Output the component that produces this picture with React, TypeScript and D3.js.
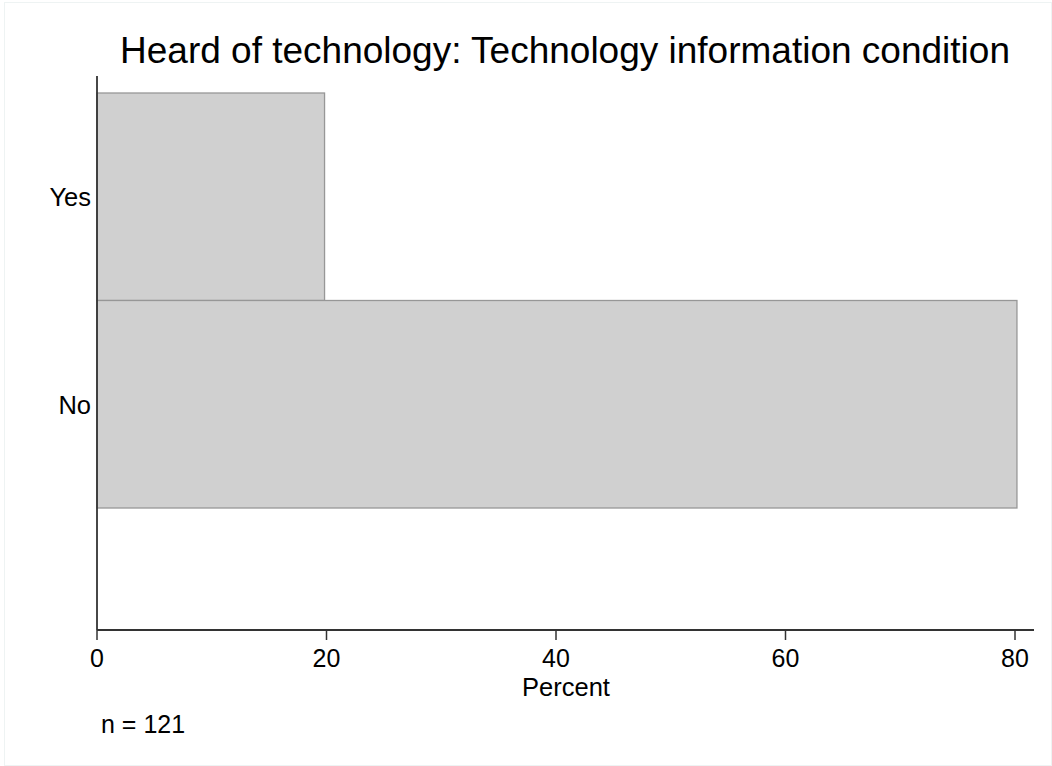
import React from "react";
import * as d3 from "d3";

const categories = ["Yes", "No"];
const percents = [19.83, 80.17];
const xTicks = [0, 20, 40, 60, 80];
const titleText = "Heard of technology: Technology information condition";
const xLabel = "Percent";
const note = "n = 121";

const W = 1052;
const H = 766;
const FONT = "'Liberation Sans', Arial, Helvetica, sans-serif";

export default function App() {
  const x = d3.scaleLinear().domain([0, 80]).range([97, 1015]);
  const y = d3.scaleBand().domain(categories).range([93, 508]).padding(0);
  const axisLeft = 97;
  const axisBottom = 630;
  const axisTop = 76;
  const axisRight = 1034;

  return (
    <svg
      width={W}
      height={H}
      style={{ position: "absolute", left: 0, top: 0, background: "#fff" }}
      fontFamily={FONT}
    >
      <rect x={0} y={0} width={W} height={H} fill="#fff" />
      <rect x={4.5} y={2.5} width={W - 5} height={H - 3} fill="none" stroke="#eef3f3" />
      <text x={565} y={63} textAnchor="middle" fontSize={37} fill="#000">
        {titleText}
      </text>
      {categories.map((c, i) => (
        <rect
          key={c}
          x={x(0)}
          y={y(c)!}
          width={x(percents[i]) - x(0)}
          height={y.bandwidth()}
          fill="#d0d0d0"
          stroke="#979797"
          strokeWidth={1.3}
        />
      ))}
      <line x1={axisLeft} x2={axisLeft} y1={axisTop} y2={axisBottom} stroke="#333" strokeWidth={1.8} />
      <line x1={axisLeft} x2={axisRight} y1={axisBottom} y2={axisBottom} stroke="#333" strokeWidth={1.8} />
      {categories.map((c) => (
        <text
          key={c}
          x={91}
          y={y(c)! + y.bandwidth() / 2 + 9.5}
          textAnchor="end"
          fontSize={25.5}
          fill="#000"
        >
          {c}
        </text>
      ))}
      {xTicks.map((t) => (
        <g key={t}>
          <line x1={x(t)} x2={x(t)} y1={axisBottom} y2={640} stroke="#333" strokeWidth={1.5} />
          <text x={x(t)} y={667} textAnchor="middle" fontSize={25} fill="#000">
            {t}
          </text>
        </g>
      ))}
      <text x={566} y={696} textAnchor="middle" fontSize={25.5} fill="#000">
        {xLabel}
      </text>
      <text x={101} y={733} textAnchor="start" fontSize={25} fill="#000">
        {note}
      </text>
    </svg>
  );
}
